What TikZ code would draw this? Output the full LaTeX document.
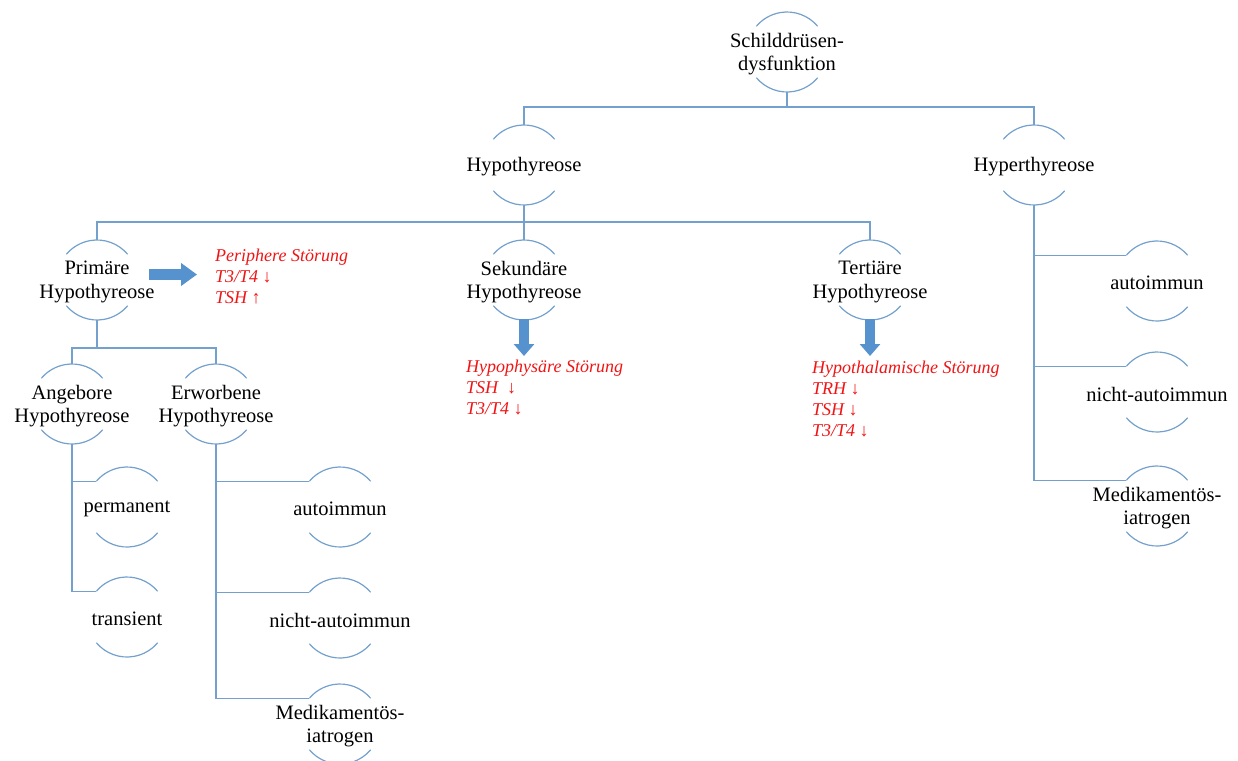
\documentclass[tikz,border=0pt]{standalone}
\usepackage{fontspec}
\setmainfont{Liberation Serif}
\usetikzlibrary{arrows.meta,calc}
\definecolor{lineblue}{RGB}{115,160,205}
\definecolor{arrowblue}{RGB}{86,146,206}
\definecolor{redtext}{RGB}{240,20,20}
\tikzset{
  circ/.style={circle,minimum size=80pt,inner sep=0pt,outer sep=0pt},
  txt/.style={align=center,font=\fontsize{20.5}{23.5}\selectfont,inner sep=0pt,yshift=-2pt},
  arcl/.style={draw=lineblue,line width=1.2pt},
  conn/.style={draw=lineblue,line width=1.5pt},
  redtxt/.style={align=left,anchor=north west,text=redtext,font=\fontsize{18}{21}\selectfont\itshape,inner sep=0pt},
  barrow/.style={draw=arrowblue,line width=11pt,-{Triangle[length=16pt,width=22pt]}},
  darrow/.style={draw=arrowblue,line width=10pt,-{Triangle[length=12pt,width=20pt]}}
}
\newcommand{\cnode}[3]{%
  \node[circ,label={[txt]center:{#3}}] (#1) at (#2) {};
  \draw[arcl] (#1.40) arc (40:140:40pt);
  \draw[arcl] (#1.220) arc (220:320:40pt);
}
\begin{document}
\begin{tikzpicture}[x=1pt,y=1pt]
\useasboundingbox (0,0) rectangle (1238,-760);
\cnode{root}{787,-52}{Schilddrüsen-\\dysfunktion}
\cnode{hypo}{524,-165}{Hypothyreose}
\cnode{hyper}{1034,-165}{Hyperthyreose}
\cnode{prim}{97,-280}{Primäre\\Hypothyreose}
\cnode{sek}{524,-280}{Sekundäre\\Hypothyreose}
\cnode{tert}{870,-280}{Tertiäre\\Hypothyreose}
\cnode{ang}{72,-404}{Angebore\\Hypothyreose}
\cnode{erw}{216,-404}{Erworbene\\Hypothyreose}
\cnode{perm}{127,-507}{permanent}
\cnode{trans}{127,-617}{transient}
\cnode{aut1}{340,-507}{autoimmun}
\cnode{nau1}{340,-618}{nicht-autoimmun}
\cnode{med1}{340,-724}{Medikamentös-\\iatrogen}
\cnode{aut2}{1157,-281}{autoimmun}
\cnode{nau2}{1157,-392}{nicht-autoimmun}
\cnode{med2}{1157,-506}{Medikamentös-\\iatrogen}

% tree connectors
\draw[conn] (root.south) -- ++(0,-15);
\draw[conn] (hypo.north) -- ++(0,18) -| (hyper.north);
\draw[conn] (hypo.south) -- (sek.north);
\draw[conn] (prim.north) -- ++(0,18) -| (tert.north);
\draw[conn] (prim.south) -- ++(0,-28);
\draw[conn] (ang.north) -- ++(0,16) -| (erw.north);
\draw[conn] (ang.south) |- (perm.140);
\draw[conn] (ang.south) |- (trans.140);
\draw[conn] (erw.south) |- (aut1.140);
\draw[conn] (erw.south) |- (nau1.140);
\draw[conn] (erw.south) |- (med1.140);
\draw[conn] (hyper.south) |- (aut2.140);
\draw[conn] (hyper.south) |- (nau2.140);
\draw[conn] (hyper.south) |- (med2.140);

% red annotations
\node[redtxt] (rprim) at (215,-249) {Periphere Störung\\T3/T4 ↓\\TSH ↑};
\node[redtxt] (rsek) at (466,-360) {Hypophysäre Störung\\TSH \ ↓\\T3/T4 ↓};
\node[redtxt] (rtert) at (812,-361) {Hypothalamische Störung\\TRH ↓\\TSH ↓\\T3/T4 ↓};

% block arrows
\draw[barrow] ([shift={(12,5.5)}]prim.east) -- ([shift={(60,5.5)}]prim.east);
\draw[darrow] ([yshift=1]sek.south) -- ([yshift=-36]sek.south);
\draw[darrow] ([yshift=1]tert.south) -- ([yshift=-36]tert.south);
\end{tikzpicture}
\end{document}
